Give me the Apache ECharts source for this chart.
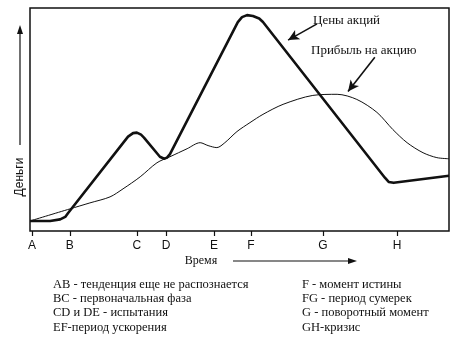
<!DOCTYPE html>
<html>
<head>
<meta charset="utf-8">
<script src="https://cdn.jsdelivr.net/npm/echarts@6/dist/echarts.min.js"></script>
<style>
  html, body { margin: 0; padding: 0; background: #fff; }
  #chart { width: 468px; height: 344px; }
</style>
</head>
<body>
<div id="chart"></div>
<script>
// Phase markers along the time axis
const tickLetters = ['A', 'B', 'C', 'D', 'E', 'F', 'G', 'H'];
const tickValues = [0.5, 9.5, 25.5, 32.5, 43.9, 52.7, 69.9, 87.6];

// Share price (thick line): [time, money]
const stockPrice = [
  [0, 4.5], [4.8, 4.5], [7.2, 5.2], [8.4, 6.3], [9.1, 8.1],
  [23.4, 42.3], [24.6, 43.9], [25.5, 44.1], [26.5, 43.2], [27.2, 41.9],
  [31.0, 33.3], [32.0, 32.4], [32.7, 32.9], [33.4, 34.5],
  [49.6, 93.7], [50.6, 95.9], [51.8, 96.8], [53.2, 96.4], [54.7, 95.3], [55.6, 93.7],
  [84.7, 23.9], [85.6, 22.0], [86.8, 21.6], [100, 24.8]
];

// Earnings per share (thin line): [time, money]
const earnings = [
  [0, 4.5], [9.5, 9.9], [14.3, 12.6], [19.1, 15.3], [22.2, 18.9],
  [26.3, 24.3], [30.3, 30.6], [33.4, 33.3], [37.5, 36.9], [40.6, 39.6],
  [42.5, 38.3], [44.6, 37.4], [46.5, 39.6], [49.4, 44.6], [52.5, 48.6],
  [55.6, 52.3], [60.4, 56.8], [67.5, 60.8], [73.3, 61.3], [78.0, 59.0],
  [82.8, 53.2], [86.6, 45.5], [90.0, 39.6], [93.8, 35.1], [97.1, 32.9],
  [100, 32.4]
];

// Pointer arrows from the curve captions: [from, to]
const stockPointer = [[68.5, 92.9], [61.6, 85.6]];
const earningsPointer = [[82.3, 77.9], [75.9, 62.6]];

// Phase legend, two columns
const legendLeft = [
  'AB - тенденция еще не распознается',
  'BC - первоначальная фаза',
  'CD и DE - испытания',
  'EF-период ускорения'
];
const legendRight = [
  'F - момент истины',
  'FG - период сумерек',
  'G - поворотный момент',
  'GH-кризис'
];

const ink = '#111';
const serif = '"Liberation Serif", "DejaVu Serif", serif';
const sans = '"Liberation Sans", Arial, sans-serif';

function pointer(pair) {
  return {
    silent: true,
    symbol: ['none', 'arrow'],
    symbolSize: [8, 11],
    label: { show: false },
    lineStyle: { color: ink, width: 1.6, type: 'solid' },
    animation: false,
    data: [[{ coord: pair[0] }, { coord: pair[1] }]]
  };
}

const legendGraphics = [];
legendLeft.forEach((t, i) => {
  legendGraphics.push({
    type: 'text', left: 53, top: 278 + i * 14.3,
    style: { text: t, font: '12.5px ' + serif, fill: ink }
  });
});
legendRight.forEach((t, i) => {
  legendGraphics.push({
    type: 'text', left: 302, top: 278 + i * 14.3,
    style: { text: t, font: '12.5px ' + serif, fill: ink }
  });
});

const chart = echarts.init(document.getElementById('chart'), null, { renderer: 'canvas' });
chart.setOption({
  animation: false,
  backgroundColor: '#fff',
  grid: {
    left: 30, right: 19, top: 8, bottom: 113,
    show: true, borderColor: ink, borderWidth: 1.5, backgroundColor: 'transparent'
  },
  xAxis: {
    type: 'value', min: 0, max: 100,
    splitLine: { show: false },
    axisLine: { show: false },
    axisTick: {
      show: true, customValues: tickValues, inside: false, length: 5,
      lineStyle: { color: ink, width: 1.2 }
    },
    axisLabel: {
      show: true, customValues: tickValues, margin: 9,
      color: ink, fontFamily: sans, fontSize: 12,
      formatter: v => tickLetters[tickValues.indexOf(v)] || ''
    }
  },
  yAxis: {
    type: 'value', min: 0, max: 100,
    show: false
  },
  series: [
    {
      name: 'Цены акций',
      type: 'line',
      data: stockPrice,
      showSymbol: false,
      smooth: false,
      lineStyle: { color: ink, width: 2.6, join: 'round' },
      markLine: pointer(stockPointer)
    },
    {
      name: 'Прибыль на акцию',
      type: 'line',
      data: earnings,
      showSymbol: false,
      smooth: 0.3,
      lineStyle: { color: ink, width: 1 },
      markLine: pointer(earningsPointer)
    }
  ],
  graphic: [
    {
      type: 'text', left: 313, top: 14,
      style: { text: 'Цены акций', font: '13px ' + serif, fill: ink }
    },
    {
      type: 'text', left: 311, top: 44,
      style: { text: 'Прибыль на акцию', font: '13px ' + serif, fill: ink }
    },
    // vertical axis caption with upward arrow
    {
      type: 'text', x: 20, y: 177, rotation: Math.PI / 2,
      style: { text: 'Деньги', font: '12px ' + sans, fill: ink, align: 'center', verticalAlign: 'middle' }
    },
    { type: 'line', shape: { x1: 20, y1: 145, x2: 20, y2: 33 }, style: { stroke: ink, lineWidth: 1.2 } },
    { type: 'polygon', shape: { points: [[20, 25], [17, 34], [23, 34]] }, style: { fill: ink } },
    // horizontal axis caption with right arrow
    {
      type: 'text', x: 201, y: 261,
      style: { text: 'Время', font: '12px ' + serif, fill: ink, align: 'center', verticalAlign: 'middle' }
    },
    { type: 'line', shape: { x1: 233, y1: 261, x2: 350, y2: 261 }, style: { stroke: ink, lineWidth: 1.2 } },
    { type: 'polygon', shape: { points: [[357, 261], [348, 258], [348, 264]] }, style: { fill: ink } }
  ].concat(legendGraphics)
});
</script>
</body>
</html>
